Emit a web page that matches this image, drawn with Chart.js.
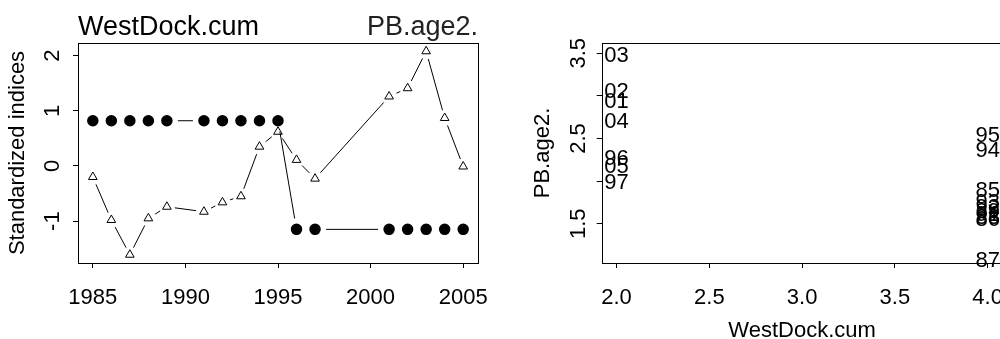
<!DOCTYPE html>
<html>
<head>
<meta charset="utf-8">
<script src="https://cdn.jsdelivr.net/npm/chart.js@4"></script>
<style>
  body { margin: 0; background: #fff; }
  #wrap { position: relative; width: 1000px; height: 339px; overflow: hidden; }
  #leftChart { position: absolute; left: 0; top: 0; }
  #rightChart { position: absolute; left: 500px; top: 0; }
</style>
</head>
<body>
<div id="wrap">
  <canvas id="leftChart" width="500" height="339"></canvas>
  <canvas id="rightChart" width="520" height="339"></canvas>
</div>
<script>
// years present in both series (1990 and 1998-2000 are missing)
const years = [1985, 1986, 1987, 1988, 1989, 1991, 1992, 1993, 1994, 1995, 1996, 1997, 2001, 2002, 2003, 2004, 2005];
const yearLabels = ['85', '86', '87', '88', '89', '91', '92', '93', '94', '95', '96', '97', '01', '02', '03', '04', '05'];

// left panel: standardized indices
const westDockZ = [0.82, 0.82, 0.82, 0.82, 0.82, 0.82, 0.82, 0.82, 0.82, 0.82, -1.15, -1.15, -1.15, -1.15, -1.15, -1.15, -1.15];
const pbAge2Z = [-0.20, -0.98, -1.61, -0.95, -0.74, -0.83, -0.66, -0.55, 0.35, 0.62, 0.11, -0.23, 1.26, 1.41, 2.08, 0.87, -0.01];

// right panel: raw values
const westDockCum = [4, 4, 4, 4, 4, 4, 4, 4, 4, 4, 2, 2, 2, 2, 2, 2, 2];
const pbAge2 = [1.88, 1.55, 1.07, 1.57, 1.64, 1.60, 1.68, 1.75, 2.35, 2.53, 2.26, 1.98, 2.93, 3.05, 3.47, 2.70, 2.17];

const leftXTicks = [1985, 1990, 1995, 2000, 2005];
const rightYLabelled = [1.5, 2.5, 3.5];

Chart.defaults.font.family = "'Liberation Sans', Arial, sans-serif";
Chart.defaults.font.size = 22;
Chart.defaults.color = '#000';

const fnt = { family: "'Liberation Sans', Arial, sans-serif", size: 22 };

// plot frame like R's box()
const boxPlugin = {
  id: 'box',
  afterDraw(chart) {
    const a = chart.chartArea, ctx = chart.ctx;
    ctx.save();
    ctx.strokeStyle = '#000';
    ctx.lineWidth = 1;
    ctx.strokeRect(Math.round(a.left) + 0.5, Math.round(a.top) + 0.5,
      Math.round(a.right - a.left), Math.round(a.bottom - a.top));
    ctx.restore();
  }
};

// type="b" lines: segments stop short of each point
const gapLines = {
  id: 'gapLines',
  beforeDatasetsDraw(chart, args, opts) {
    const ctx = chart.ctx;
    ctx.save();
    ctx.strokeStyle = '#000';
    ctx.lineWidth = 1;
    chart.data.datasets.forEach((ds, di) => {
      const gap = opts.gaps[di];
      const pts = chart.getDatasetMeta(di).data;
      for (let i = 0; i < pts.length - 1; i++) {
        const a = pts[i], b = pts[i + 1];
        const dx = b.x - a.x, dy = b.y - a.y;
        const len = Math.hypot(dx, dy);
        if (len <= 2 * gap) continue;
        const ux = dx / len, uy = dy / len;
        ctx.beginPath();
        ctx.moveTo(a.x + ux * gap, a.y + uy * gap);
        ctx.lineTo(b.x - ux * gap, b.y - uy * gap);
        ctx.stroke();
      }
    });
    ctx.restore();
  }
};

const cornerTitles = {
  id: 'cornerTitles',
  afterDraw(chart, args, opts) {
    const a = chart.chartArea, ctx = chart.ctx;
    ctx.save();
    ctx.font = "27px 'Liberation Sans', Arial, sans-serif";
    ctx.textBaseline = 'alphabetic';
    ctx.fillStyle = '#000';
    ctx.textAlign = 'left';
    ctx.fillText(opts.left, a.left, 35);
    ctx.fillStyle = '#222';
    ctx.textAlign = 'right';
    ctx.fillText(opts.right, a.right, 35);
    ctx.restore();
  }
};

const pointText = {
  id: 'pointText',
  afterDatasetsDraw(chart, args, opts) {
    const ctx = chart.ctx;
    const pts = chart.getDatasetMeta(0).data;
    ctx.save();
    ctx.font = "22px 'Liberation Sans', Arial, sans-serif";
    ctx.fillStyle = '#000';
    ctx.textAlign = 'center';
    ctx.textBaseline = 'middle';
    pts.forEach((p, i) => ctx.fillText(opts.labels[i], p.x, p.y));
    ctx.restore();
  }
};

const tickGrid = {
  drawOnChartArea: false,
  drawTicks: true,
  tickLength: 5,
  color: '#000',
  tickColor: '#000',
  lineWidth: 1
};

// fixed axis band sizes, no extra side padding from tick labels
const fixX = s => { s.height = 76; s.paddingLeft = 0; s.paddingRight = 0; };

let leftChart = new Chart(document.getElementById('leftChart').getContext('2d'), {
  type: 'scatter',
  data: {
    datasets: [{
      label: 'WestDock.cum',
      data: years.map((yr, i) => ({ x: yr, y: westDockZ[i] })),
      pointStyle: 'circle',
      pointRadius: 5,
      backgroundColor: '#000',
      borderColor: '#000',
      borderWidth: 1.5,
      showLine: false
    }, {
      label: 'PB.age2.',
      data: years.map((yr, i) => ({ x: yr, y: pbAge2Z[i] })),
      pointStyle: 'triangle',
      pointRadius: 5,
      backgroundColor: 'rgba(0,0,0,0)',
      borderColor: '#000',
      borderWidth: 1,
      showLine: false
    }]
  },
  options: {
    responsive: false,
    animation: false,
    events: [],
    devicePixelRatio: 1,
    layout: { padding: { top: 43, right: 22, left: 0, bottom: 0 } },
    plugins: {
      legend: { display: false },
      tooltip: { enabled: false },
      gapLines: { gaps: [11, 8] },
      cornerTitles: { left: 'WestDock.cum', right: 'PB.age2.' }
    },
    scales: {
      x: {
        type: 'linear',
        min: 1984.2,
        max: 2005.8,
        afterBuildTicks: s => { s.ticks = leftXTicks.map(v => ({ value: v })); },
        ticks: { font: fnt, padding: 17, maxRotation: 0, callback: v => String(v) },
        grid: tickGrid,
        border: { display: false },
        afterFit: fixX
      },
      y: {
        min: -1.76,
        max: 2.23,
        ticks: {
          stepSize: 1, includeBounds: false, font: fnt,
          minRotation: 90, maxRotation: 90, crossAlign: 'center', padding: 10,
          callback: v => String(v)
        },
        grid: tickGrid,
        border: { display: false },
        title: { display: true, text: 'Standardized indices', font: fnt, padding: { top: 5, bottom: 0 } },
        afterFit: s => { s.width = 78; }
      }
    }
  },
  plugins: [boxPlugin, gapLines, cornerTitles]
});

let rightChart = new Chart(document.getElementById('rightChart').getContext('2d'), {
  type: 'scatter',
  data: {
    datasets: [{
      label: 'PB.age2.',
      data: westDockCum.map((v, i) => ({ x: v, y: pbAge2[i] })),
      pointRadius: 0
    }]
  },
  options: {
    responsive: false,
    animation: false,
    events: [],
    devicePixelRatio: 1,
    layout: { padding: { top: 43, right: 17.5, left: 0, bottom: 0 } },
    plugins: {
      legend: { display: false },
      tooltip: { enabled: false },
      pointText: { labels: yearLabels }
    },
    scales: {
      x: {
        type: 'linear',
        min: 1.92,
        max: 4.08,
        ticks: { stepSize: 0.5, includeBounds: false, font: fnt, padding: 17, maxRotation: 0, callback: v => v.toFixed(1) },
        grid: tickGrid,
        border: { display: false },
        title: { display: true, text: 'WestDock.cum', font: fnt, padding: { top: 0, bottom: -5 } },
        afterFit: fixX
      },
      y: {
        min: 1.04,
        max: 3.62,
        ticks: {
          stepSize: 0.5, includeBounds: false, font: fnt,
          minRotation: 90, maxRotation: 90, crossAlign: 'center', padding: 2,
          callback: v => (rightYLabelled.some(t => Math.abs(t - v) < 1e-6) ? v.toFixed(1) : '')
        },
        grid: tickGrid,
        border: { display: false },
        title: { display: true, text: 'PB.age2.', font: fnt, padding: { top: 30, bottom: 0 } },
        afterFit: s => { s.width = 101.7; }
      }
    }
  },
  plugins: [boxPlugin, pointText]
});
</script>
</body>
</html>
